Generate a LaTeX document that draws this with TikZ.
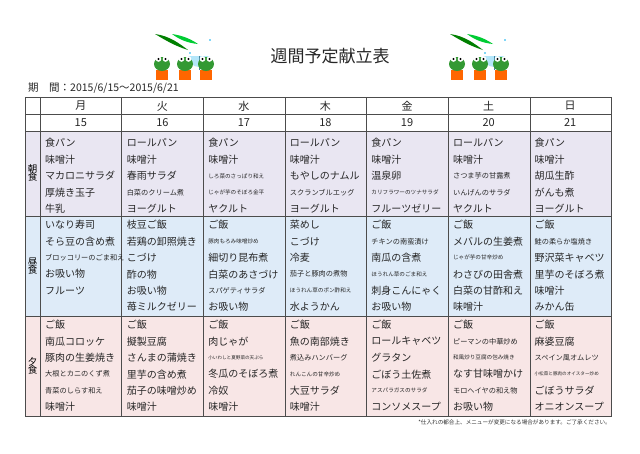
\documentclass[tikz,border=0pt]{standalone}
\usepackage{fontspec}
\setmainfont{Noto Sans CJK JP}
\definecolor{bfc}{HTML}{E9E6F2}
\definecolor{lnc}{HTML}{DEEBF8}
\definecolor{dnc}{HTML}{F8E6E6}
\newcommand\nrm{\fontsize{10}{11}\selectfont}
\newcommand\smx{\fontsize{7.2}{8}\selectfont}
\newcommand\tnx{\fontsize{5.6}{6}\selectfont}
\begin{document}
\begin{tikzpicture}[x=1pt,y=-1pt,
  item/.style={anchor=west,inner sep=0pt,font=\nrm,text=black!85},
  hd/.style={inner sep=0pt,font=\fontsize{11}{12}\selectfont,text=black!85},
  grid/.style={draw=black!70,line width=0.6pt},
  pot/.style={fill=orange!80!red,draw=none}]
\useasboundingbox (0,0) rectangle (640,453);
\fill[white] (0,0) rectangle (640,453);
% backgrounds
\fill[bfc] (25,131) rectangle (611,216);
\fill[lnc] (25,216) rectangle (611,316);
\fill[dnc] (25,316) rectangle (611,416);
% grid
\draw[grid] (25,97) rectangle (611,416);
\foreach \y in {114,131,216,316} \draw[grid] (25,\y) -- (611,\y);
\foreach \x in {40,121,203,285,366,448,530} \draw[grid] (\x,97) -- (\x,416);
% title
\node[font=\fontsize{17}{18}\selectfont,text=black!85] (title) at (330,56) {週間予定献立表};
\node[anchor=west,inner sep=0pt,font=\fontsize{10.5}{11}\selectfont,text=black!85] (period) at (28,88) {期\quad 間：2015/6/15〜2015/6/21};
\node[anchor=east,inner sep=0pt,font=\tnx,text=black!80] (note) at (611,422) {*仕入れの都合上、メニューが変更になる場合があります。ご了承ください。};
% headers
\foreach \d/\n [count=\i] in {月/15,火/16,水/17,木/18,金/19,土/20,日/21}{
  \pgfmathsetmacro\cx{40+81.57*(\i-0.5)}
  \node[hd] (d\i) at (\cx,106) {\d};
  \node[hd] (n\i) at (\cx,123) {\n};
}
\node[font=\fontsize{9.5}{10}\selectfont,align=center,inner sep=0pt] (m1) at (32.5,173) {朝\\[-2pt]食};
\node[font=\fontsize{9.5}{10}\selectfont,align=center,inner sep=0pt] (m2) at (32.5,266) {昼\\[-2pt]食};
\node[font=\fontsize{9.5}{10}\selectfont,align=center,inner sep=0pt] (m3) at (32.5,366) {夕\\[-2pt]食};
\newcommand\col[4]{%
  \foreach \t [count=\j] in {#4}{
    \node[item] (c#1-#2-\j) at ({40+81.57*(#1-1)+5},{#2+#3*(\j-1)}) {\t};}}
% breakfast
\col{1}{143}{16.5}{食パン,味噌汁,マカロニサラダ,厚焼き玉子,牛乳}
\col{2}{143}{16.5}{ロールパン,味噌汁,春雨サラダ,{\smx 白菜のクリーム煮},ヨーグルト}
\col{3}{143}{16.5}{食パン,味噌汁,{\tnx しろ菜のさっぱり和え},{\tnx じゃが芋のそぼろ金平},ヤクルト}
\col{4}{143}{16.5}{ロールパン,味噌汁,もやしのナムル,{\smx スクランブルエッグ},ヨーグルト}
\col{5}{143}{16.5}{食パン,味噌汁,温泉卵,{\tnx カリフラワーのツナサラダ},フルーツゼリー}
\col{6}{143}{16.5}{ロールパン,味噌汁,{\smx さつま芋の甘露煮},{\smx いんげんのサラダ},ヤクルト}
\col{7}{143}{16.5}{食パン,味噌汁,胡瓜生酢,がんも煮,ヨーグルト}
% lunch
\col{1}{225}{16.4}{いなり寿司,そら豆の含め煮,{\smx ブロッコリーのごま和え},お吸い物,フルーツ}
\col{2}{225}{16.4}{枝豆ご飯,若鶏の卸照焼き,こづけ,酢の物,お吸い物,苺ミルクゼリー}
\col{3}{225}{16.4}{ご飯,{\tnx 豚肉もろみ味噌炒め},細切り昆布煮,白菜のあさづけ,{\smx スパゲティサラダ},お吸い物}
\col{4}{225}{16.4}{菜めし,こづけ,冷麦,{\smx 茄子と豚肉の煮物},{\tnx ほうれん草のポン酢和え},水ようかん}
\col{5}{225}{16.4}{ご飯,{\smx チキンの南蛮漬け},南瓜の含煮,{\tnx ほうれん草のごま和え},刺身こんにゃく,お吸い物}
\col{6}{225}{16.4}{ご飯,メバルの生姜煮,{\tnx じゃが芋の甘辛炒め},わさびの田舎煮,白菜の甘酢和え,味噌汁}
\col{7}{225}{16.4}{ご飯,{\smx 鮭の柔らか塩焼き},野沢菜キャベツ,里芋のそぼろ煮,味噌汁,みかん缶}
% dinner
\col{1}{325}{16.4}{ご飯,南瓜コロッケ,豚肉の生姜焼き,{\smx 大根とカニのくず煮},{\smx 青菜のしらす和え},味噌汁}
\col{2}{325}{16.4}{ご飯,擬製豆腐,さんまの蒲焼き,里芋の含め煮,茄子の味噌炒め,味噌汁}
\col{3}{325}{16.4}{ご飯,肉じゃが,{\fontsize{4.6}{5}\selectfont 小いわしと夏野菜の天ぷら},冬瓜のそぼろ煮,冷奴,味噌汁}
\col{4}{325}{16.4}{ご飯,魚の南部焼き,{\smx 煮込みハンバーグ},{\tnx れんこんの甘辛炒め},大豆サラダ,味噌汁}
\col{5}{325}{16.4}{ご飯,ロールキャベツ,グラタン,ごぼう土佐煮,{\tnx アスパラガスのサラダ},コンソメスープ}
\col{6}{325}{16.4}{ご飯,{\smx ピーマンの中華炒め},{\tnx 和風炒り豆腐の包み焼き},なす甘味噌かけ,{\smx モロヘイヤの和え物},お吸い物}
\col{7}{325}{16.4}{ご飯,麻婆豆腐,{\smx スペイン風オムレツ},{\fontsize{4.6}{5}\selectfont 小松菜と豚肉のオイスター炒め},ごぼうサラダ,オニオンスープ}
% frogs
\foreach \ox in {150,445}{
  \begin{scope}[shift={(\ox,0)}]
    \fill[green!50!black] (5,34) .. controls (20,36) and (30,44) .. (38,50) .. controls (25,46) and (15,40) .. (5,34);
    \fill[green!60!teal] (22,34) .. controls (35,36) and (42,40) .. (48,44) .. controls (38,43) and (30,40) .. (22,34);
    \fill[cyan!30] (38,56) arc[start angle=180,end angle=0,radius=11] -- cycle;
    \draw[cyan!60!black,line width=0.4pt] (49,56) -- (49,70);
    \foreach \fx in {12,35,56}{
      \fill[pot] (\fx-6,70) rectangle (\fx+6,80);
      \fill[green!50!black!80] (\fx,64) ellipse (8 and 7);
      \fill[white] (\fx-3.5,59) circle (2.8); \fill[white] (\fx+3.5,59) circle (2.8);
      \fill[black] (\fx-3.5,59) circle (1.2); \fill[black] (\fx+3.5,59) circle (1.2);
    }
    \fill[cyan] (40,53) circle (0.8); \fill[cyan] (60,40) circle (0.8);
  \end{scope}
}
\end{tikzpicture}
\end{document}
